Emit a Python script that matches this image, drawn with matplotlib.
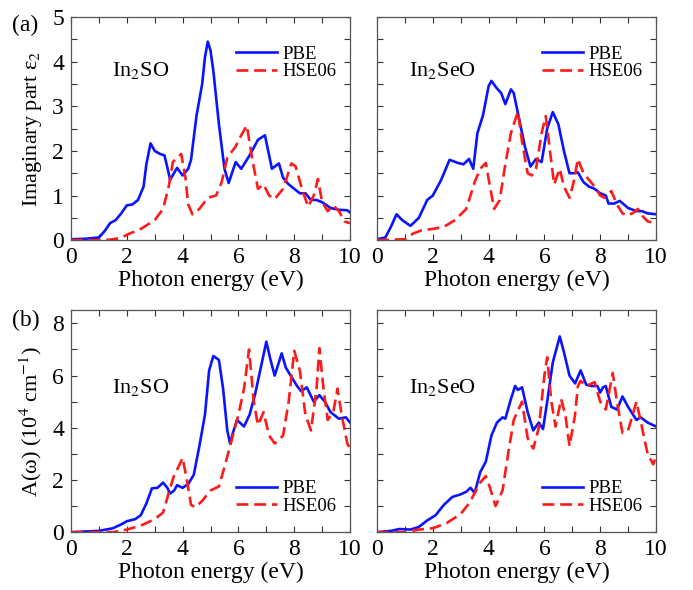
import matplotlib
matplotlib.use("Agg")
from matplotlib import pyplot as plt
from matplotlib.ticker import MultipleLocator

plt.rcParams['font.family'] = ['Liberation Serif', 'DejaVu Serif']
plt.rcParams['mathtext.fontset'] = 'stix'

# (a) In2SO, imaginary part eps2
a_so_pbe_e = [0, 0.5, 1.0, 1.2, 1.4, 1.6, 1.8, 2.0, 2.2, 2.4, 2.6, 2.7, 2.85, 3.0, 3.2, 3.35,
              3.5, 3.55, 3.8, 4.0, 4.2, 4.3, 4.5, 4.7, 4.8, 4.9, 5.0, 5.1, 5.3, 5.5, 5.65, 5.9, 6.1,
              6.4, 6.7, 6.95, 7.2, 7.45, 7.6, 7.8, 8.0, 8.2, 8.4, 8.6, 8.8, 9.0, 9.3, 9.6, 9.9, 10]
a_so_pbe = [0.02, 0.03, 0.06, 0.2, 0.38, 0.45, 0.6, 0.78, 0.8, 0.9, 1.2, 1.7, 2.17, 2.0, 1.93, 1.9,
            1.5, 1.35, 1.62, 1.45, 1.6, 1.8, 2.8, 3.5, 4.1, 4.45, 4.25, 3.8, 2.6, 1.6, 1.28, 1.75, 1.6,
            1.9, 2.25, 2.35, 1.6, 1.72, 1.4, 1.25, 1.15, 1.05, 1.05, 0.9, 0.9, 0.85, 0.72, 0.68, 0.67, 0.62]
a_so_hse_e = [0, 1.0, 1.4, 1.8, 2.0, 2.5, 3.0, 3.3, 3.5, 3.65, 3.8, 3.95, 4.1, 4.2, 4.35, 4.6,
              4.9, 5.2, 5.4, 5.6, 5.9, 6.1, 6.3, 6.5, 6.7, 6.9, 7.1, 7.3, 7.6, 7.9, 8.05, 8.3,
              8.5, 8.7, 8.85, 9.0, 9.2, 9.4, 9.6, 9.8, 10]
a_so_hse = [0.0, 0.0, 0.01, 0.05, 0.12, 0.25, 0.45, 0.7, 1.2, 1.75, 1.85, 1.93, 1.4, 0.8, 0.58, 0.7,
            0.95, 1.0, 1.3, 1.85, 2.1, 2.35, 2.57, 1.8, 1.15, 1.25, 1.0, 0.92, 1.15, 1.72, 1.65, 1.1,
            0.75, 1.0, 1.37, 0.85, 0.65, 0.78, 0.65, 0.42, 0.38]

# (a) In2SeO
a_seo_pbe_e = [0, 0.3, 0.5, 0.7, 0.9, 1.2, 1.5, 1.8, 2.0, 2.3, 2.6, 2.9, 3.1, 3.3, 3.45, 3.6,
               3.8, 4.0, 4.1, 4.3, 4.45, 4.6, 4.8, 4.9, 5.1, 5.3, 5.5, 5.7, 5.9, 6.1, 6.3, 6.5,
               6.7, 6.9, 7.1, 7.2, 7.4, 7.6, 7.8, 8.0, 8.2, 8.3, 8.5, 8.7, 9.0, 9.3, 9.5, 9.7, 10]
a_seo_pbe = [0.02, 0.06, 0.3, 0.58, 0.45, 0.32, 0.5, 0.9, 1.0, 1.35, 1.8, 1.73, 1.7, 1.82, 1.6, 2.4,
             2.8, 3.45, 3.57, 3.4, 3.3, 3.05, 3.38, 3.3, 2.7, 2.1, 1.65, 1.82, 1.75, 2.5, 2.87, 2.6,
             2.0, 1.5, 1.5, 1.52, 1.3, 1.2, 1.15, 1.05, 1.0, 0.82, 0.82, 0.88, 0.72, 0.65, 0.65, 0.6, 0.58]
a_seo_hse_e = [0, 1.0, 1.3, 1.6, 2.0, 2.4, 2.8, 3.2, 3.5, 3.7, 3.9, 4.05, 4.2, 4.4, 4.6, 4.8,
               5.05, 5.2, 5.4, 5.55, 5.7, 5.9, 6.05, 6.2, 6.35, 6.55, 6.7, 6.9, 7.05, 7.2, 7.4,
               7.6, 7.8, 8.0, 8.15, 8.4, 8.6, 8.8, 9.0, 9.2, 9.35, 9.5, 9.7, 10]
a_seo_hse = [0.0, 0.02, 0.15, 0.22, 0.25, 0.3, 0.45, 0.7, 1.3, 1.6, 1.73, 1.2, 0.7, 0.9, 1.7, 2.4,
             2.88, 2.2, 1.5, 1.45, 1.6, 2.4, 2.78, 2.0, 1.25, 1.6, 1.2, 0.95, 1.3, 1.82, 1.5,
             1.35, 1.2, 1.0, 0.95, 1.1, 0.8, 0.6, 0.55, 0.62, 0.7, 0.55, 0.42, 0.38]

# (b) In2SO, absorption A(w)
b_so_pbe_e = [0, 1.0, 1.5, 1.8, 2.0, 2.3, 2.5, 2.7, 2.9, 3.1, 3.3, 3.45, 3.55, 3.7, 3.8, 4.0,
              4.2, 4.4, 4.6, 4.8, 4.95, 5.1, 5.3, 5.45, 5.6, 5.7, 5.8, 5.95, 6.2, 6.4, 6.6, 6.8,
              7.0, 7.15, 7.3, 7.55, 7.7, 7.9, 8.1, 8.25, 8.45, 8.7, 8.9, 9.1, 9.3, 9.6, 9.85, 10]
b_so_pbe = [0.0, 0.05, 0.15, 0.3, 0.42, 0.5, 0.65, 1.1, 1.68, 1.7, 1.9, 1.7, 1.48, 1.6, 1.8, 1.7,
            1.85, 2.2, 3.3, 4.5, 6.2, 6.75, 6.6, 5.5, 3.9, 3.4, 3.8, 4.3, 4.05, 4.5, 5.3, 6.3,
            7.3, 6.6, 6.0, 6.85, 6.3, 5.95, 5.6, 5.4, 5.55, 5.0, 5.25, 5.0, 4.6, 4.35, 4.4, 4.2]
b_so_hse_e = [0, 1.5, 2.0, 2.5, 3.0, 3.3, 3.5, 3.7, 3.85, 4.0, 4.15, 4.3, 4.45, 4.7, 5.0, 5.3,
              5.5, 5.8, 6.0, 6.2, 6.38, 6.55, 6.7, 6.9, 7.1, 7.3, 7.6, 7.8, 8.0, 8.2, 8.4, 8.6,
              8.8, 8.9, 9.05, 9.2, 9.4, 9.55, 9.7, 9.9, 10]
b_so_hse = [0.0, 0.0, 0.1, 0.25, 0.5, 0.75, 1.5, 2.2, 2.5, 2.85, 2.0, 1.05, 0.95, 1.2, 1.6, 1.75,
            2.5, 3.7, 4.5, 5.5, 7.0, 5.0, 4.1, 4.6, 3.7, 3.4, 3.7, 5.0, 6.95, 6.2, 4.5, 3.9,
            5.5, 7.05, 5.5, 4.3, 4.6, 5.5, 4.5, 3.4, 3.2]

# (b) In2SeO
b_seo_pbe_e = [0, 0.5, 0.8, 1.2, 1.5, 1.8, 2.1, 2.4, 2.7, 3.0, 3.2, 3.35, 3.5, 3.7, 3.9, 4.1,
               4.3, 4.5, 4.6, 4.8, 4.95, 5.05, 5.2, 5.4, 5.6, 5.8, 5.95, 6.1, 6.3, 6.55, 6.7, 6.9,
               7.1, 7.3, 7.5, 7.7, 7.9, 8.0, 8.1, 8.2, 8.4, 8.6, 8.8, 9.0, 9.3, 9.45, 9.7, 10]
b_seo_pbe = [0.0, 0.05, 0.12, 0.1, 0.2, 0.45, 0.65, 1.05, 1.35, 1.45, 1.55, 1.7, 1.5, 2.3, 2.7, 3.7,
             4.2, 4.4, 4.35, 5.1, 5.6, 5.45, 5.55, 4.6, 3.9, 4.2, 3.95, 5.0, 6.5, 7.5, 6.9, 6.0,
             5.7, 6.2, 5.65, 5.6, 5.6, 5.35, 5.55, 5.6, 4.8, 4.7, 5.2, 4.8, 4.3, 4.4, 4.2, 4.05]
b_seo_hse_e = [0, 1.0, 1.5, 2.0, 2.5, 3.0, 3.3, 3.5, 3.7, 3.9, 4.05, 4.25, 4.5, 4.7, 4.9, 5.2,
               5.4, 5.6, 5.8, 6.0, 6.1, 6.25, 6.4, 6.6, 6.75, 6.9, 7.1, 7.2, 7.3, 7.5, 7.8, 8.0,
               8.2, 8.45, 8.6, 8.8, 9.0, 9.3, 9.5, 9.7, 9.9, 10]
b_seo_hse = [0.0, 0.0, 0.1, 0.15, 0.35, 0.7, 1.1, 1.5, 1.9, 2.15, 1.7, 1.0, 1.6, 3.0, 4.3, 5.0,
             3.6, 3.2, 4.0, 6.0, 6.7, 5.0, 4.05, 5.1, 4.5, 3.3, 4.5, 5.6, 5.8, 5.6, 5.75, 5.0,
             4.7, 6.1, 5.0, 3.8, 3.9, 5.0, 4.0, 3.0, 2.6, 2.9]

panels = [
    (a_so_pbe_e, a_so_pbe, a_so_hse_e, a_so_hse, r'In$_2$SO', 0.147),
    (a_seo_pbe_e, a_seo_pbe, a_seo_hse_e, a_seo_hse, r'In$_2$SeO', 0.115),
    (b_so_pbe_e, b_so_pbe, b_so_hse_e, b_so_hse, r'In$_2$SO', 0.147),
    (b_seo_pbe_e, b_seo_pbe, b_seo_hse_e, b_seo_hse, r'In$_2$SeO', 0.115),
]

fig = plt.figure(figsize=(6.93, 5.9), dpi=100)
rects = [[0.1025, 0.593, 0.4026, 0.378], [0.544, 0.593, 0.4026, 0.378],
         [0.1025, 0.098, 0.4026, 0.376], [0.544, 0.098, 0.4026, 0.376]]

for i, (pe, pv, he, hv, name, tx) in enumerate(panels):
    ax = fig.add_axes(rects[i])
    ax.plot(pe, pv, color='#0a14ff', lw=1.9, label='PBE')
    ax.plot(he, hv, color='#ff1a1a', lw=1.9, ls=(0, (4.5, 2.2)), label='HSE06')
    ax.set_xlim(0, 10)
    ax.xaxis.set_major_locator(MultipleLocator(2))
    ax.xaxis.set_minor_locator(MultipleLocator(1))
    if i < 2:
        ax.set_ylim(0, 5)
        ax.yaxis.set_major_locator(MultipleLocator(1))
        ax.yaxis.set_minor_locator(MultipleLocator(0.5))
        ty = 0.76
        leg_loc = 'upper right'
        bbox = (1.0, 0.93)
    else:
        ax.set_ylim(0, 8.5)
        ax.yaxis.set_major_locator(MultipleLocator(2))
        ax.yaxis.set_minor_locator(MultipleLocator(1))
        ty = 0.65
        leg_loc = 'lower right'
        bbox = (1.0, 0.02)
    ax.tick_params(which='both', direction='in', top=True, right=True,
                   labelsize=17, length=4, width=0.8, colors='#333333',
                   labelcolor='black', pad=5)
    for s in ax.spines.values():
        s.set_color('#555555')
        s.set_linewidth(0.9)
    if i % 2 == 1:
        ax.set_yticklabels([])
    ax.set_xlabel('Photon energy (eV)', fontsize=17, labelpad=1)
    ax.text(tx, ty, name, transform=ax.transAxes, fontsize=16, va='center', ha='left')
    ax.legend(loc=leg_loc, bbox_to_anchor=bbox, frameon=False, fontsize=13.5,
              handlelength=2.2, handletextpad=0.3, labelspacing=0.0, borderaxespad=0.3)
    if i == 0:
        ax.set_ylabel('Imaginary part ε$_2$', fontsize=16, labelpad=6)
    if i == 2:
        ax.set_ylabel('A(ω) (10$^4$ cm$^{-1}$)', fontsize=16, labelpad=6)

fig.text(0.017, 0.975, '(a)', fontsize=17, va='top', ha='left')
fig.text(0.017, 0.475, '(b)', fontsize=17, va='top', ha='left')

fig.savefig('out.png', dpi=100)
